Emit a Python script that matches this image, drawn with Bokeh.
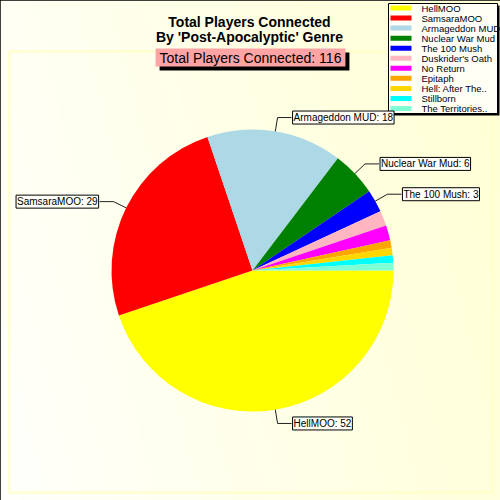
import numpy as np
from bokeh.plotting import figure
from bokeh.models import ColumnDataSource, Range1d, Label
from bokeh.embed import file_html
from bokeh.resources import INLINE
from bokeh.core.properties import value

# ---- data ----
games = ["HellMOO", "SamsaraMOO", "Armageddon MUD", "Nuclear War Mud", "The 100 Mush",
         "Duskrider's Oath", "No Return", "Epitaph", "Hell: After The..", "Stillborn",
         "The Territories.."]
players = [52, 29, 18, 6, 3, 2, 2, 1, 1, 1, 1]
colors = ["#FFFF00", "#FF0000", "#ADD8E6", "#008000", "#0000FF", "#FFB6C1",
          "#FF00FF", "#FFA500", "#FFD700", "#00FFFF", "#7FFFD4"]
labelled = 5
title_lines = ["Total Players Connected", "By 'Post-Apocalyptic' Genre"]
subtitle_prefix = "Total Players Connected"

W = H = 500
FONT = "Liberation Sans"


def sy(y):
    return H - y


p = figure(width=W, height=H, x_range=Range1d(0, W), y_range=Range1d(0, H),
           min_border=0, toolbar_location=None, output_backend="svg",
           x_axis_type=None, y_axis_type=None)
p.grid.visible = False
p.outline_line_color = "black"
p.outline_line_width = 3

# background gradient
n = 100
gx, gy = np.meshgrid(np.linspace(0, 1, n), np.linspace(0, 1, n))
t = np.clip(0.8 * gx + 0.2 * gy, 0, 1)
img = np.empty((n, n), dtype=np.uint32)
v = img.view(dtype=np.uint8).reshape((n, n, 4))
v[..., 0] = 255
v[..., 1] = 255
v[..., 2] = (252 - 40 * t).astype(np.uint8)
v[..., 3] = 255
p.image_rgba(image=[img], x=0, y=0, dw=W, dh=H)
p.quad(left=9, right=492, top=sy(51), bottom=sy(492), fill_color=None,
       line_color="#FFFFC8", line_width=2)

# pie
vals = np.array(players, dtype=float)
total = int(vals.sum())
cum = np.concatenate([[0], np.cumsum(vals)])
a0 = 2 * np.pi * cum[:-1] / total
a1 = 2 * np.pi * cum[1:] / total
src = ColumnDataSource(dict(name=games, v=players, color=colors, start=-a0, end=-a1))
CX, CY, R = 252, sy(270), 141
p.wedge(x=CX, y=CY, radius=R, start_angle="start", end_angle="end",
        direction="clock", fill_color="color", line_color=None, source=src)

# leader lines and labels
xs_l, ys_l = [], []
for i in range(labelled):
    ang = -(a0[i] + a1[i]) / 2
    ex, ey = CX + R * np.cos(ang), CY + R * np.sin(ang)
    kx, ky = CX + (R + 14) * np.cos(ang), CY + (R + 14) * np.sin(ang)
    right = np.cos(ang) >= 0
    hx = kx + (14 if right else -14)
    xs_l.append([ex, kx, hx])
    ys_l.append([ey, ky, ky])
    p.add_layout(Label(x=hx + (1 if right else -1), y=ky,
                       text=f"{games[i]}: {players[i]}",
                       text_align="left" if right else "right", text_baseline="middle",
                       text_font=FONT, text_font_size="10px", text_color="black",
                       background_fill_color="#FFFFF8", border_line_color="black",
                       border_line_width=1, padding=1))
p.multi_line(xs=xs_l, ys=ys_l, line_color="#202020", line_width=1)

# title
p.add_layout(Label(x=249, y=sy(21), text=title_lines[0], text_align="center",
                   text_baseline="alphabetic", text_font=FONT, text_font_size="14px",
                   text_font_style="bold", text_color="black"))
p.add_layout(Label(x=249, y=sy(36), text=title_lines[1], text_align="center",
                   text_baseline="alphabetic", text_font=FONT, text_font_size="14px",
                   text_font_style="bold", text_color="black"))

# subtitle with shadow
sub = f"{subtitle_prefix}: {total}"
p.add_layout(Label(x=254, y=sy(61), text=sub, text_align="center",
                   text_baseline="middle", text_font=FONT, text_font_size="14px",
                   text_color="black", background_fill_color="black", padding=(4, 1)))
p.add_layout(Label(x=250, y=sy(57), text=sub, text_align="center",
                   text_baseline="middle", text_font=FONT, text_font_size="14px",
                   text_color="black", background_fill_color="#FFA4A4", padding=(4, 1)))

# legend
p.quad(left=390, right=499, top=sy(5), bottom=sy(115), fill_color="black", line_color=None)
p.quad(left=388, right=497, top=sy(3), bottom=sy(113), fill_color="#FFFFF6",
       line_color="black", line_width=1)
leg_y = [sy(7.5 + 10.05 * i) for i in range(len(games))]
lsrc = ColumnDataSource(dict(y=leg_y, name=games, color=colors))
p.rect(x=400.5, y="y", width=21, height=5, fill_color="color", line_color=None, source=lsrc)
p.text(x=421, y="y", text="name", text_font=value(FONT), text_font_size="9.5px",
       text_baseline="middle", text_color="#000010", source=lsrc)

open("out.html", "w").write(file_html(p, INLINE))
